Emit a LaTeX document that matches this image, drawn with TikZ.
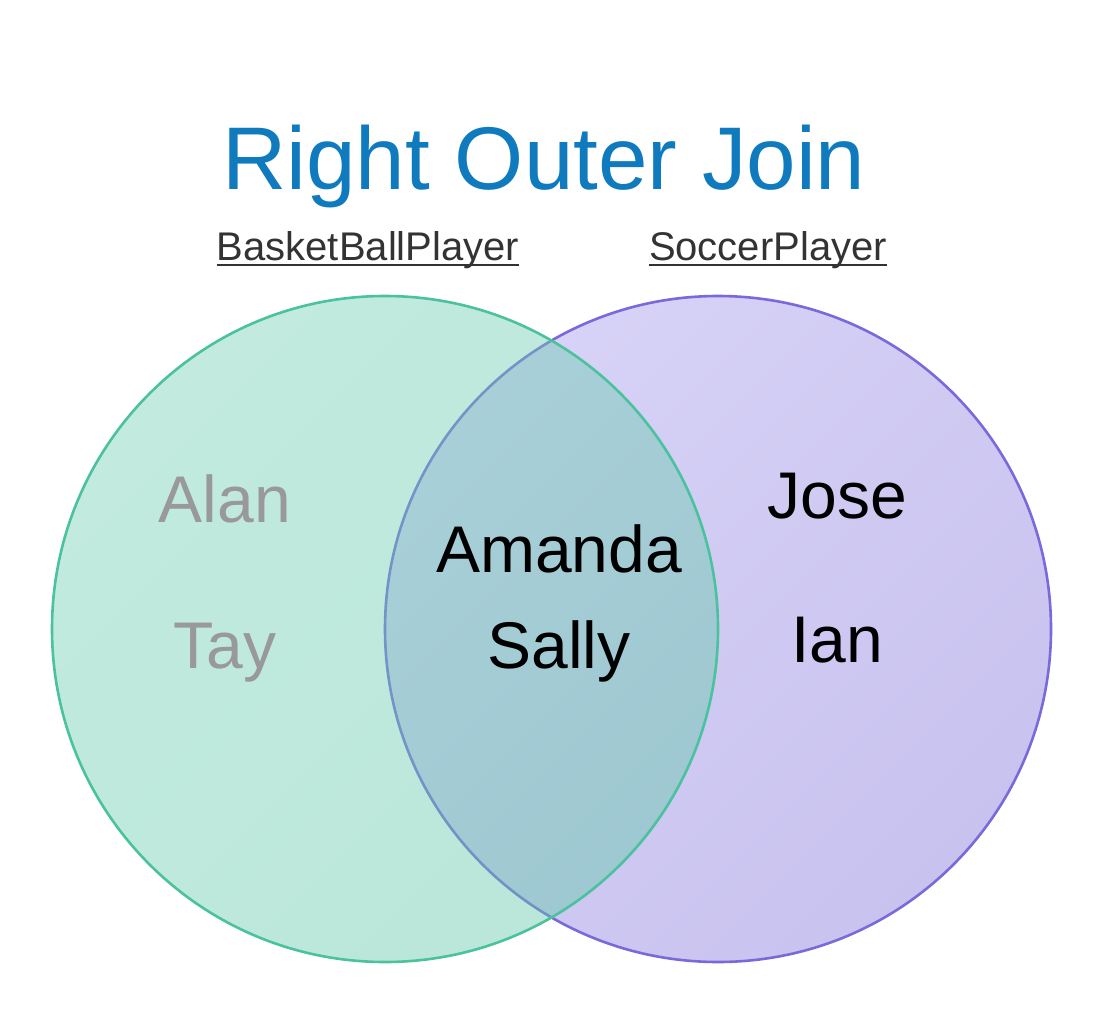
\documentclass[tikz,border=0pt]{standalone}
\usepackage{fontspec}
\setmainfont{Liberation Sans}
\definecolor{titleblue}{HTML}{0F7BBE}
\definecolor{labelgray}{HTML}{333333}
\definecolor{namegray}{HTML}{999999}
\definecolor{purpstroke}{HTML}{7A69DA}
\definecolor{purpA}{HTML}{D7D2F6}
\definecolor{purpB}{HTML}{C8C2EF}
\definecolor{greenstroke}{HTML}{4AC29E}
\definecolor{greenA}{RGB}{116,208,182}
\definecolor{greenB}{RGB}{98,200,170}
\tikzset{
  setlabel/.style={anchor=base, inner sep=0pt, text=labelgray, font=\fontsize{40}{48}\selectfont},
  memberlbl/.style={anchor=base, inner sep=0pt, font=\fontsize{66}{78}\selectfont},
}
\begin{document}
\begin{tikzpicture}[x=1pt,y=-1pt]
\useasboundingbox (0,0) rectangle (1107,1016);
% right circle (SoccerPlayer)
\shade[top color=purpA, bottom color=purpB, shading angle=45] (718,629) circle (333);
\draw[purpstroke, line width=2.6pt] (718,629) circle (333);
% left circle (BasketBallPlayer)
\shade[top color=greenA, bottom color=greenB, shading angle=45, fill opacity=0.44] (385,629) circle (333);
\draw[greenstroke, line width=2.6pt] (385,629) circle (333);
% title
\node[anchor=base, inner sep=0pt, text=titleblue, font=\fontsize{89}{100}\selectfont] (title) at (544,190) {Right Outer Join};
% set labels
\node[setlabel] (lblA) at (368,260) {BasketBallPlayer};
\node[setlabel] (lblB) at (768,260) {SoccerPlayer};
\draw[labelgray, line width=2.4pt] ([yshift=-5pt]lblA.base west) -- ([yshift=-5pt]lblA.base east);
\draw[labelgray, line width=2.4pt] ([yshift=-5pt]lblB.base west) -- ([yshift=-5pt]lblB.base east);
% names
\node[memberlbl, text=namegray] (alan) at (225,522) {Alan};
\node[memberlbl, text=namegray] (tay) at (225,668) {Tay};
\node[memberlbl] (amanda) at (559,572) {Amanda};
\node[memberlbl] (sally) at (559,668) {Sally};
\node[memberlbl] (jose) at (837,518) {Jose};
\node[memberlbl] (ian) at (837,662) {Ian};
\end{tikzpicture}
\end{document}
